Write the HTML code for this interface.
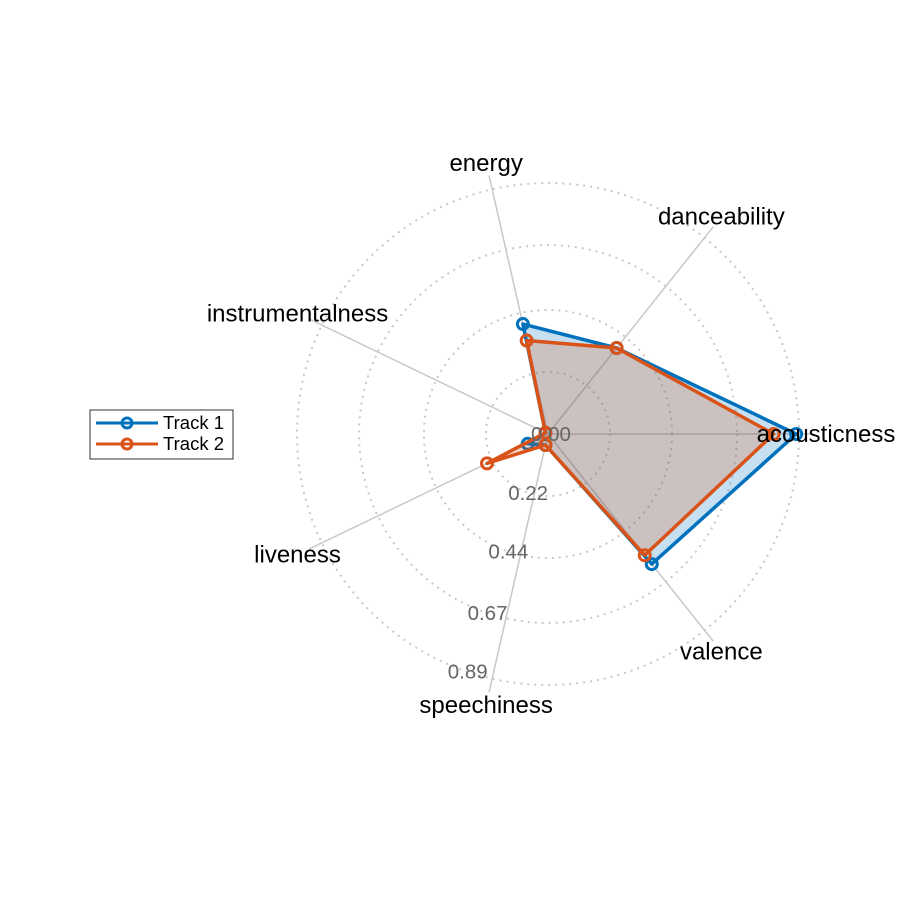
<!DOCTYPE html>
<html><head><meta charset="utf-8"><style>
body{margin:0;background:#fff;}
svg text{font-family:"Liberation Sans",Arial,sans-serif;}
</style></head><body>
<svg id="chart" width="900" height="900" viewBox="0 0 900 900" xmlns="http://www.w3.org/2000/svg">
<rect width="900" height="900" fill="#fff"/>
<g id="grid"></g>
<g id="series"></g>
<g id="labels"></g>
<g>
<rect x="90" y="410" width="143" height="49" fill="#fff" stroke="#333" stroke-width="1"/>
<line x1="96" y1="423" x2="158" y2="423" stroke="#0072bd" stroke-width="3"/>
<circle cx="127" cy="423" r="5" fill="none" stroke="#0072bd" stroke-width="3"/>
<text x="163" y="429" font-size="18.5" fill="#000">Track 1</text>
<line x1="96" y1="444" x2="158" y2="444" stroke="#d95319" stroke-width="3"/>
<circle cx="127" cy="444" r="5" fill="none" stroke="#d95319" stroke-width="3"/>
<text x="163" y="450" font-size="18.5" fill="#000">Track 2</text>
</g>
</svg>
<script>
const categories = ["acousticness","danceability","energy","instrumentalness","liveness","speechiness","valence"];
const track1 = [0.88, 0.39, 0.40, 0.01, 0.08, 0.04, 0.59];
const track2 = [0.80, 0.39, 0.34, 0.01, 0.24, 0.04, 0.55];
const ringValues = [0.22, 0.44, 0.67, 0.89];
const tickLabels = ["0.00","0.22","0.44","0.67","0.89"];

const NS = "http://www.w3.org/2000/svg";
const cx = 548, cy = 434, scale = 251/0.89, axisLen = 265, labelR = 278;
function ang(i){ return i*2*Math.PI/categories.length; }
function pt(i, v){ const r=v*scale; return [cx + r*Math.cos(ang(i)), cy - r*Math.sin(ang(i))]; }
function mk(tag, attrs, parent){ const e=document.createElementNS(NS,tag); for(const k in attrs) e.setAttribute(k,attrs[k]); parent.appendChild(e); return e; }

const grid = document.getElementById('grid');
ringValues.forEach((v)=>{
  const c = mk('circle',{cx:cx,cy:cy,r:v*scale,fill:'none',stroke:'#c8c8c8','stroke-width':2,'stroke-dasharray':'2 5'},grid);
  
  
});
categories.forEach((c,i)=>{
  const l = mk('line',{x1:cx,y1:cy,x2:cx+axisLen*Math.cos(ang(i)),y2:cy-axisLen*Math.sin(ang(i)),stroke:'#c8c8c8','stroke-width':1.5},grid);
  
  
});

const series = document.getElementById('series');
function drawSeries(vals, color, name){
  const pts = vals.map((v,i)=>pt(i,v));
  const s = pts.map(p=>p.join(',')).join(' ');
  const f = mk('polygon',{points:s,fill:color,'fill-opacity':0.22,stroke:'none'},series);
  
  
  const o = mk('polygon',{points:s,fill:'none',stroke:color,'stroke-width':3.5,'stroke-linejoin':'round'},series);
  
  
  pts.forEach(p=>{
    const m = mk('circle',{cx:p[0],cy:p[1],r:5.5,fill:'none',stroke:color,'stroke-width':3},series);
    
    
  });
}
drawSeries(track1,'#0072bd','track-1');
drawSeries(track2,'#d95319','track-2');

const labels = document.getElementById('labels');
categories.forEach((c,i)=>{
  const t = mk('text',{x:cx+labelR*Math.cos(ang(i)),y:cy-labelR*Math.sin(ang(i))+8,'font-size':24,'text-anchor':'middle',fill:'#000'},labels);
  t.textContent = c;
  
  
});
const tdx = -0.32, tdy = 0.947;
tickLabels.forEach((lab,k)=>{
  const r = k===0 ? 0 : ringValues[k-1]*scale;
  const x = cx + r*tdx + (k===0 ? 3 : 0);
  const y = cy + r*tdy + 7;
  const t = mk('text',{x:x,y:y,'font-size':20.5,'text-anchor':'middle',fill:'#666'},labels);
  t.textContent = lab;
  
  
});
</script>
</body></html>
